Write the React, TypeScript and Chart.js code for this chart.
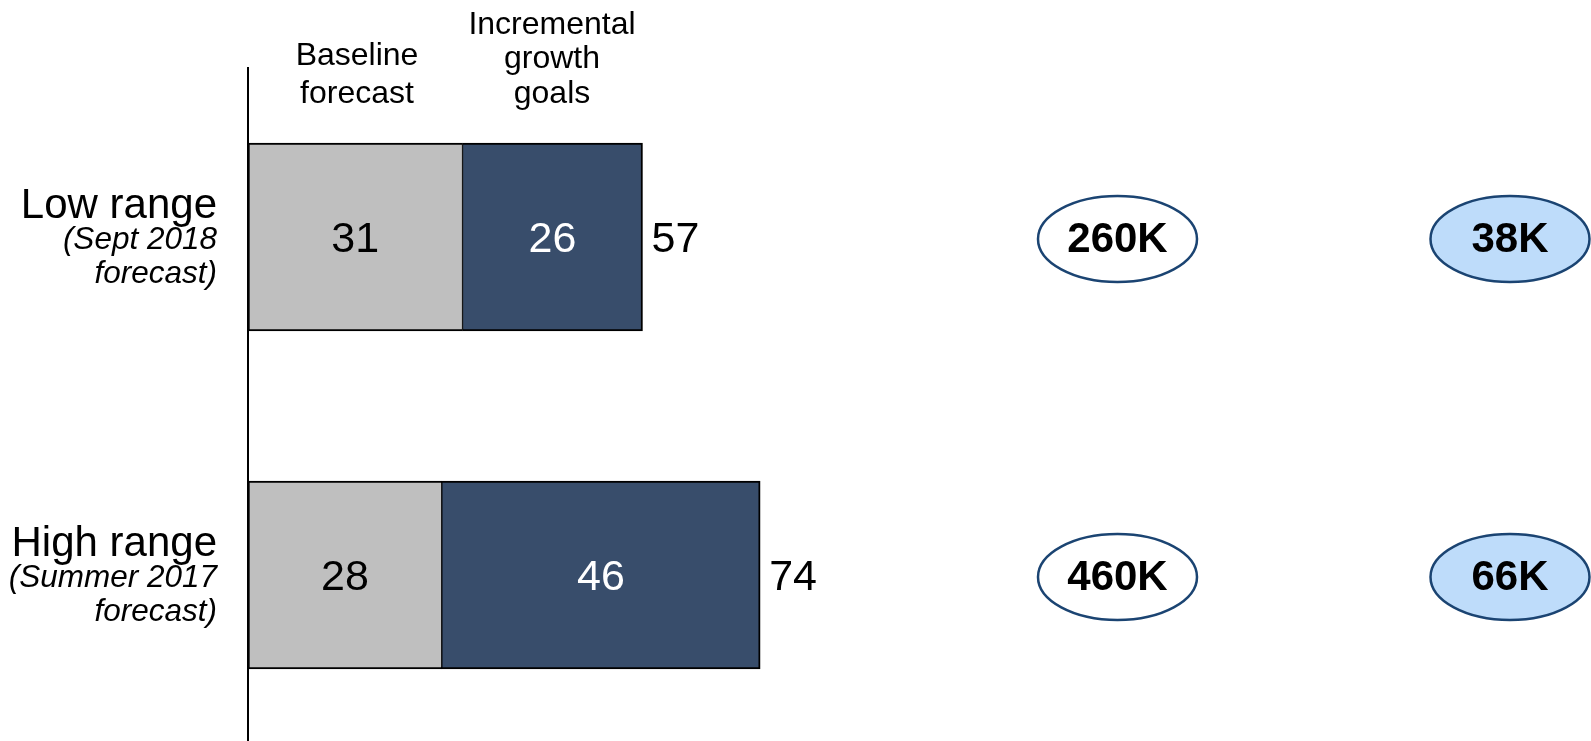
import React, { useEffect, useRef } from "react";
import { Chart, registerables } from "chart.js";

Chart.register(...registerables);

// ---- data ----
const categories = ["Low range", "High range"];
const categoryNotes = [
  ["(Sept 2018", "forecast)"],
  ["(Summer 2017", "forecast)"],
];
const baselineForecast = [31, 28];
const incrementalGoals = [26, 46];
const headerBaseline = ["Baseline", "forecast"];
const headerIncremental = ["Incremental", "growth", "goals"];
const bubbleTotals = ["260K", "460K"];
const bubbleShares = ["38K", "66K"];
const xMax = 190;

const FONT = '"Liberation Sans", Arial, Helvetica, sans-serif';

function txt(
  ctx: CanvasRenderingContext2D,
  s: string,
  x: number,
  y: number,
  font: string,
  align: CanvasTextAlign,
  color: string
) {
  ctx.font = font;
  ctx.textAlign = align;
  ctx.textBaseline = "alphabetic";
  ctx.fillStyle = color;
  ctx.fillText(s, x, y);
}

const annotations = {
  id: "annotations",
  afterDatasetsDraw(chart: any) {
    const ctx: CanvasRenderingContext2D = chart.ctx;
    const m0 = chart.getDatasetMeta(0);
    const m1 = chart.getDatasetMeta(1);
    ctx.save();

    // column headers
    const hb = [65, 103];
    headerBaseline.forEach((s, i) => txt(ctx, s, 357, hb[i], `32px ${FONT}`, "center", "#000"));
    const hi = [34, 68, 103];
    headerIncremental.forEach((s, i) => txt(ctx, s, 552, hi[i], `32px ${FONT}`, "center", "#000"));

    categories.forEach((cat, i) => {
      const b0 = m0.data[i];
      const b1 = m1.data[i];
      const yc = b0.y;

      // category labels
      txt(ctx, cat, 217, yc - 19, `42px ${FONT}`, "right", "#000");
      txt(ctx, categoryNotes[i][0], 217, yc + 11.5, `italic 31.5px ${FONT}`, "right", "#000");
      txt(ctx, categoryNotes[i][1], 217, yc + 46, `italic 31.5px ${FONT}`, "right", "#000");

      // values inside bars
      const numFont = `43px ${FONT}`;
      const dy = 0.36 * 43;
      txt(ctx, String(baselineForecast[i]), (b0.base + b0.x) / 2, yc + dy, numFont, "center", "#000");
      txt(ctx, String(incrementalGoals[i]), (b1.base + b1.x) / 2, yc + dy, numFont, "center", "#fff");
      txt(ctx, String(baselineForecast[i] + incrementalGoals[i]), b1.x + 9, yc + dy, numFont, "left", "#000");

      // ellipses
      const ey = yc + 2;
      const drawEllipse = (cx: number, fill: string, label: string) => {
        ctx.beginPath();
        ctx.ellipse(cx, ey, 79.5, 43, 0, 0, Math.PI * 2);
        ctx.fillStyle = fill;
        ctx.fill();
        ctx.lineWidth = 2.5;
        ctx.strokeStyle = "#1B4472";
        ctx.stroke();
        txt(ctx, label, cx, yc + 0.36 * 42, `bold 42px ${FONT}`, "center", "#000");
      };
      drawEllipse(1117.5, "#FFFFFF", bubbleTotals[i]);
      drawEllipse(1510, "#BEDCFA", bubbleShares[i]);
    });

    ctx.restore();
  },
};

export default function App() {
  const ref = useRef<HTMLCanvasElement>(null);
  useEffect(() => {
    document.body.style.margin = "0";
    const chart = new Chart(ref.current as HTMLCanvasElement, {
      type: "bar",
      data: {
        labels: categories,
        datasets: [
          {
            label: "Baseline forecast",
            data: baselineForecast,
            backgroundColor: "#BFBFBF",
            borderColor: "#000000",
            borderWidth: { top: 2, bottom: 2, left: 2, right: 1 },
            borderSkipped: false,
            barThickness: 188,
          },
          {
            label: "Incremental growth goals",
            data: incrementalGoals,
            backgroundColor: "#384D6B",
            borderColor: "#000000",
            borderWidth: { top: 2, bottom: 2, left: 1, right: 2 },
            borderSkipped: false,
            barThickness: 188,
          },
        ],
      },
      options: {
        indexAxis: "y",
        responsive: false,
        animation: false,
        events: [],
        layout: { padding: { left: 248, top: 68, right: 28, bottom: 4 } },
        plugins: { legend: { display: false }, tooltip: { enabled: false } },
        scales: {
          x: { stacked: true, min: 0, max: xMax, display: false },
          y: {
            stacked: true,
            display: true,
            ticks: { display: false },
            grid: { display: false, drawTicks: false },
            border: { display: true, color: "#000000", width: 2 },
            afterFit: (s: any) => {
              s.width = 0;
            },
          },
        },
      } as any,
      plugins: [annotations],
    });
    return () => chart.destroy();
  }, []);
  return (
    <div
      style={{
        position: "absolute",
        left: 0,
        top: 0,
        width: 1591,
        height: 741,
        overflow: "hidden",
        background: "#fff",
      }}
    >
      <canvas ref={ref} width={1591} height={748} style={{ width: 1591, height: 748, display: "block" }} />
    </div>
  );
}
